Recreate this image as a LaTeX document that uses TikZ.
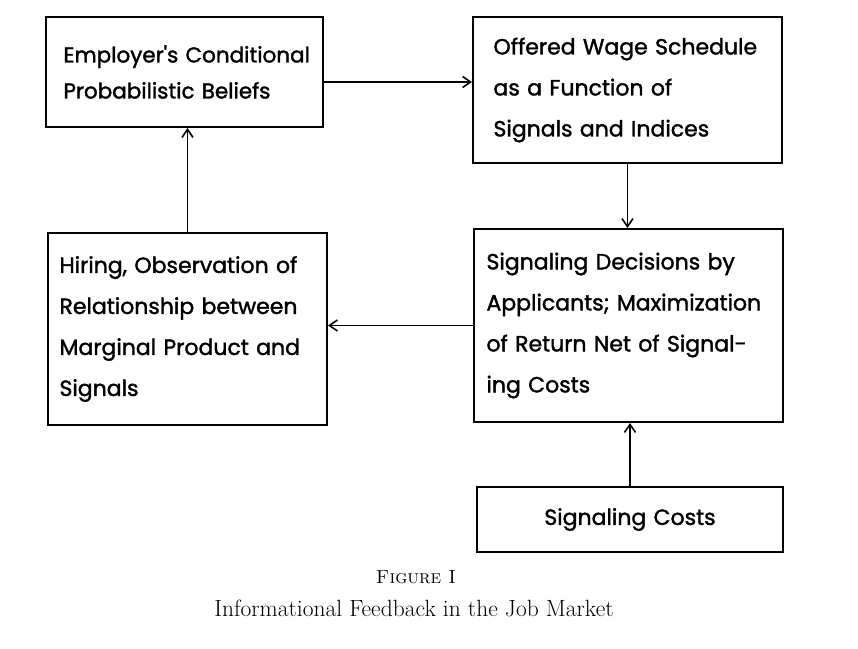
\documentclass[tikz,border=0pt]{standalone}
\usepackage{fontspec}
\usepackage{tikz}
\usetikzlibrary{arrows.meta}
\newfontfamily\letterfont[FakeBold=1.6]{Poppins}

\begin{document}
\begin{tikzpicture}[x=1pt, y=-1pt,
        box/.style={draw, line width=2pt, inner sep=0pt, text width=#1, align=left},
        lettering/.style={font=\letterfont\fontsize{22}{41}\selectfont},
        arr/.style={-{Straight Barb[length=8pt, width=11pt, line width=1.6pt]}, line width=1.6pt}]
            \useasboundingbox (0, 0) rectangle (858, 648);

            \node[box=242pt, lettering, font=\letterfont\fontsize{21.5}{36}\selectfont, minimum width=277pt, minimum height=110pt] (beliefs) at (184.5, 72)
                {\mbox{Employer's Conditional}\\\mbox{Probabilistic Beliefs}};
            \node[box=268pt, lettering, minimum width=309pt, minimum height=146pt] (wage) at (627.5, 90)
                {Offered Wage Schedule\\as a Function of\\Signals and Indices};
            \node[box=256pt, lettering, minimum width=279pt, minimum height=192pt] (hiring) at (187.5, 329)
                {Hiring, Observation of\\Relationship between\\Marginal Product and\\Signals};
            \node[box=284pt, lettering, minimum width=309pt, minimum height=193pt] (decisions) at (628.5, 325.5)
                {Signaling Decisions by\\Applicants; Maximization\\of Return Net of Signal-\\ing Costs};
            \node[box=306pt, lettering, align=center, minimum width=306pt, minimum height=65pt] (costs) at (630, 519.5)
                {Signaling Costs};

            \coordinate (b1) at ([yshift=-10pt]beliefs.east);
            \draw[arr] (b1) -- (b1 -| wage.west);
            \draw[arr] (wage.south) -- (wage.south |- decisions.north);
            \draw[arr] (decisions.west) -- (decisions.west -| hiring.east);
            \draw[arr] (hiring.north) -- (hiring.north |- beliefs.south);
            \draw[arr] (costs.north) -- (costs.north |- decisions.south);

            \node[font=\fontsize{19}{22}\selectfont] (fig) at (416, 577) {\textsc{Figure I}};
            \node[font=\fontsize{23.5}{26}\selectfont] (title) at (414, 608) {Informational Feedback in the Job Market};

\end{tikzpicture}
\end{document}
